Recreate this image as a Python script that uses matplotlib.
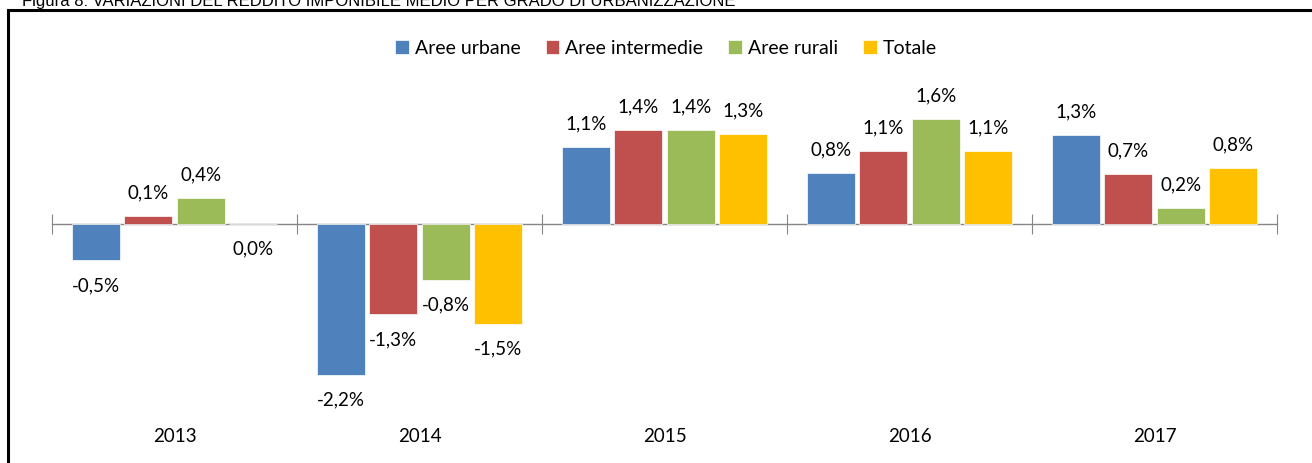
import matplotlib
matplotlib.use("Agg")
import matplotlib.pyplot as plt
import matplotlib.patches as patches
from matplotlib.transforms import blended_transform_factory
import numpy as np

plt.rcParams['font.family'] = ['Lato', 'DejaVu Sans']

# Data (variazione %)
years = ["2013", "2014", "2015", "2016", "2017"]
series = ["Aree urbane", "Aree intermedie", "Aree rurali", "Totale"]
urbane = [-0.54, -2.24, 1.14, 0.76, 1.32]
intermedie = [0.12, -1.34, 1.39, 1.08, 0.74]
rurali = [0.38, -0.83, 1.39, 1.56, 0.24]
totale = [-0.001, -1.48, 1.33, 1.08, 0.83]
colors = ["#4F81BD", "#C0504D", "#9BBB59", "#FFC000"]

W, H = 1312, 463
fig = plt.figure(figsize=(W / 100, H / 100), dpi=100)
ax = fig.add_axes([52 / W, (H - 400) / H, (1277 - 52) / W, 320 / H])

x = np.arange(len(years))
bw = 48 / 245
step = 52.5 / 245
for k, (name, vals) in enumerate(zip(series, [urbane, intermedie, rurali, totale])):
    pos = x + (k - 1.5) * step
    ax.bar(pos, vals, width=bw, color=colors[k], label=name,
           edgecolor="white", linewidth=0.5, zorder=2)
    for px, v in zip(pos, vals):
        lab = f"{abs(v):.1f}".replace(".", ",") + "%"
        if round(v, 1) < 0:
            lab = "-" + lab
        off = 23 if v > 0 else -25
        ax.annotate(lab, (px, v), xytext=(0, off), textcoords="offset pixels",
                    ha="center", va="center", fontsize=13.5, color="#000000")

s = 67.5
ax.set_ylim(-176 / s, 144 / s)
ax.set_xlim(-0.5, len(years) - 0.5)

for sp in ["top", "right", "left"]:
    ax.spines[sp].set_visible(False)
ax.spines["bottom"].set_position(("data", 0))
ax.spines["bottom"].set_color("#868686")
ax.spines["bottom"].set_linewidth(1.0)
ax.spines["bottom"].set_zorder(1)
ax.set_yticks([])
ax.set_xticks(np.arange(len(years) + 1) - 0.5)
ax.tick_params(axis="x", direction="inout", length=14, color="#868686",
               labelbottom=False)

tr = blended_transform_factory(ax.transData, ax.transAxes)
for xi, yr in zip(x, years):
    ax.text(xi, -37 / 320, yr, transform=tr, ha="center", va="center",
            fontsize=13.5, color="#000000")

handles, labels = ax.get_legend_handles_labels()
fig.legend(handles, labels, loc="center", bbox_to_anchor=(666 / W, 1 - 48 / H),
           ncol=4, frameon=False, fontsize=14, handlelength=0.7,
           handleheight=0.7, handletextpad=0.3, columnspacing=1.3)

# frame and (cropped) title
fig.patches.append(patches.Rectangle((8 / W, -0.1), 1.2, 1 - 10 / H + 0.1,
                                     transform=fig.transFigure, fill=False,
                                     edgecolor="black", linewidth=2.2))
fig.text(22 / W, 1 - 6 / H, "Figura 8: VARIAZIONI DEL REDDITO IMPONIBILE MEDIO PER GRADO DI URBANIZZAZIONE",
         family="Liberation Sans", fontsize=12, ha="left", va="baseline")

fig.savefig("out.png", dpi=100)
